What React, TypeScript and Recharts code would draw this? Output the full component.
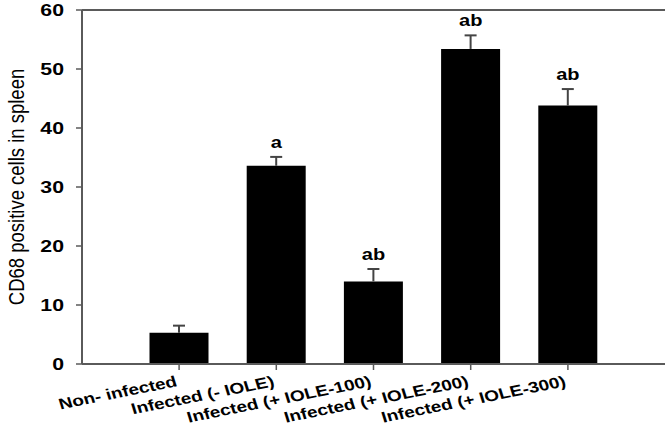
import React from 'react';
import {
  Bar,
  ComposedChart,
  LabelList,
  Line,
  ReferenceLine,
  XAxis,
  YAxis,
} from 'recharts';

const groups = [
  'Non- infected',
  'Infected (- IOLE)',
  'Infected (+ IOLE-100)',
  'Infected (+ IOLE-200)',
  'Infected (+ IOLE-300)',
];
const cd68 = [5.3, 33.6, 14.0, 53.4, 43.8];
const sem = [1.2, 1.5, 2.1, 2.3, 2.8];
const letters = ['', 'a', 'ab', 'ab', 'ab'];
const yTicks = [0, 10, 20, 30, 40, 50, 60];

const data = groups.map((name, i) => ({
  name,
  value: cd68[i],
  err: sem[i],
  capTop: cd68[i] + sem[i],
  sig: letters[i],
}));

const font = 'Liberation Sans, Arial, sans-serif';
const axisGray = '#5a5a5a';

const YTick = ({ x, y, payload }: any) => (
  <text
    transform={`translate(${x},${y}) scale(1.25,1)`}
    textAnchor="end"
    dy="0.36em"
    fontSize={17}
    fontWeight="bold"
    fontFamily={font}
    fill="#000"
  >
    {payload.value}
  </text>
);

const XTick = ({ x, y, payload }: any) => (
  <text
    transform={`translate(${x - 1},${y + 14}) scale(1.25,1) rotate(-14)`}
    textAnchor="end"
    fontSize={15.2}
    fontWeight="bold"
    fontFamily={font}
    fill="#000"
  >
    {payload.value}
  </text>
);

const SigLabel = ({ x, y, value }: any) =>
  value ? (
    <text
      transform={`translate(${x},${y - 9}) scale(1.25,1)`}
      textAnchor="middle"
      fontSize={16}
      fontWeight="bold"
      fontFamily={font}
      fill="#000"
    >
      {value}
    </text>
  ) : null;

// upper whisker only: drawn as the stacked segment on top of the bar
const Whisker = ({ x, y, width, height }: any) => {
  const cx = x + width / 2;
  return (
    <g stroke="#444" strokeWidth={2}>
      <line x1={cx} y1={y} x2={cx} y2={y + height} />
      <line x1={cx - 6} y1={y} x2={cx + 6} y2={y} />
    </g>
  );
};

const YLabel = ({ viewBox }: any) => {
  const cy = viewBox.y + viewBox.height / 2;
  return (
    <text
      transform={`translate(16,${cy}) scale(1.2,1) rotate(-90)`}
      textAnchor="middle"
      dy="0.36em"
      fontSize={18.5}
      fontFamily={font}
      fill="#000"
    >
      CD68 positive cells in spleen
    </text>
  );
};

export default function App() {
  return (
    <div style={{ position: 'absolute', left: 0, top: 0, background: '#fff' }}>
      <ComposedChart
        width={672}
        height={432}
        data={data}
        margin={{ top: 10, right: 7, bottom: 0, left: 0 }}
      >
        <XAxis
          dataKey="name"
          height={68}
          padding={{ left: 48.5, right: 48.5 }}
          interval={0}
          tick={<XTick />}
          tickSize={6}
          axisLine={{ stroke: axisGray, strokeWidth: 2 }}
          tickLine={{ stroke: axisGray, strokeWidth: 1.5 }}
        />
        <YAxis
          width={82}
          domain={[0, 60]}
          ticks={yTicks}
          interval={0}
          tickSize={6}
          tickMargin={12}
          tick={<YTick />}
          axisLine={{ stroke: axisGray, strokeWidth: 2 }}
          tickLine={{ stroke: axisGray, strokeWidth: 1.5 }}
          label={(props: any) => <YLabel {...props} />}
        />
        <YAxis
          yAxisId="right"
          orientation="right"
          width={0}
          domain={[0, 60]}
          tick={false}
          tickLine={false}
          axisLine={{ stroke: axisGray, strokeWidth: 2 }}
        />
        <ReferenceLine y={60} stroke={axisGray} strokeWidth={2} />
        <Bar
          dataKey="value"
          stackId="s"
          fill="#000"
          barSize={59}
          isAnimationActive={false}
        />
        <Bar
          dataKey="err"
          stackId="s"
          barSize={59}
          shape={<Whisker />}
          isAnimationActive={false}
        />
        <Line
          dataKey="capTop"
          stroke="none"
          dot={false}
          activeDot={false}
          isAnimationActive={false}
        >
          <LabelList dataKey="sig" content={<SigLabel />} />
        </Line>
      </ComposedChart>
    </div>
  );
}
